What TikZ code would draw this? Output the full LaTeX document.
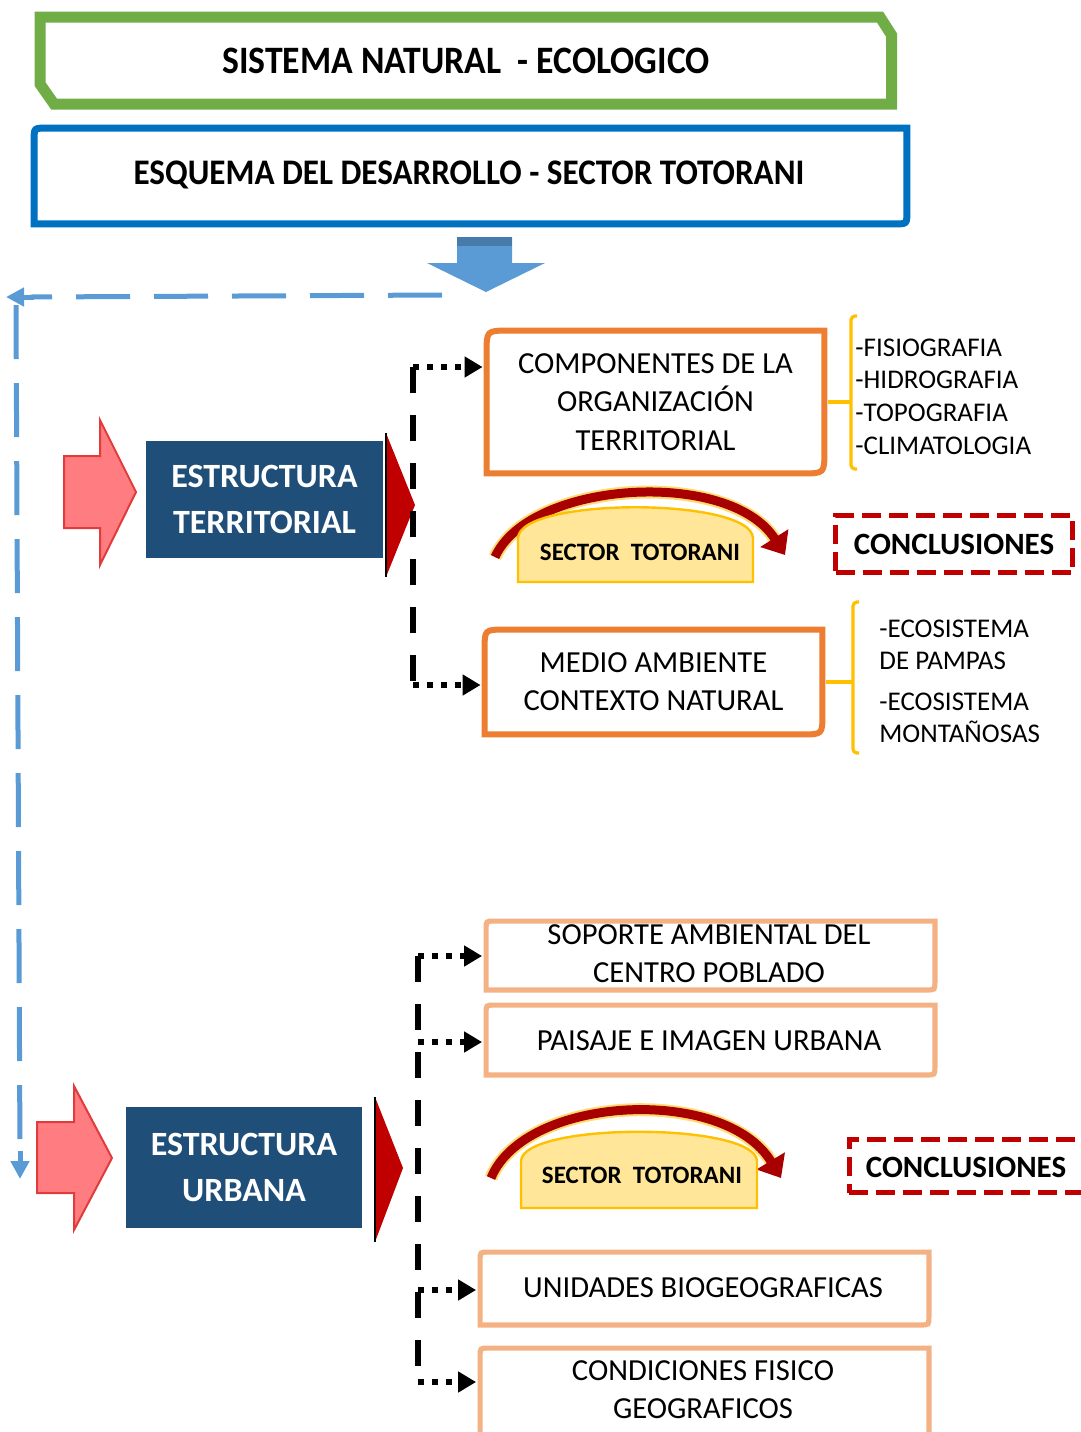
\documentclass[tikz,border=0pt]{standalone}
\usepackage{fontspec}
\setmainfont{Carlito}
\usepackage{graphicx}
\usetikzlibrary{arrows.meta}
\definecolor{cgreen}{HTML}{70AD47}
\definecolor{cblue}{HTML}{0070C0}
\definecolor{cblock}{HTML}{5B9BD5}
\definecolor{cblockd}{HTML}{41719C}
\definecolor{cpink}{HTML}{FF7C80}
\definecolor{cpinkd}{HTML}{E03C3C}
\definecolor{cnavy}{HTML}{1F4E79}
\definecolor{cdred}{HTML}{C00000}
\definecolor{carrowred}{HTML}{A80000}
\definecolor{corange}{HTML}{ED7D31}
\definecolor{clorange}{HTML}{F4B183}
\definecolor{cyellow}{HTML}{FFC000}
\definecolor{cdome}{HTML}{FFE699}
\newcommand\fsz[2]{\fontsize{#1}{#2}\selectfont}
\newcommand\twocorner[3]{\draw[#3] (#1.south west) -- ([yshift=-#2]#1.north west) .. controls (#1.north west) .. ([xshift=#2]#1.north west) -- (#1.north east) -- ([yshift=#2]#1.south east) .. controls (#1.south east) .. ([xshift=-#2]#1.south east) -- cycle;}
\begin{document}
\begin{tikzpicture}[x=0.5pt,y=-0.5pt,
  shapebox/.style={rectangle, draw=none, inner sep=0pt},
  txt/.style={inner sep=0pt, align=center, text=black},
  boxtxt/.style={txt, font=\fsz{15.3pt}{19.3pt}},
  listtxt/.style={inner sep=0pt, align=left, anchor=west, text=black, font=\fsz{13.5pt}{16.3pt}},
  navybox/.style={rectangle, fill=cnavy, inner sep=0pt, text=white, align=center, font=\fsz{17pt}{23pt}\bfseries},
  concbox/.style={rectangle, draw=cdred, line width=2.5pt, dash pattern=on 9.5pt off 4pt, inner sep=0pt, font=\fsz{15.5pt}{18pt}\bfseries},
  dotarr/.style={line width=3pt, dash pattern=on 3pt off 4pt, -{Triangle[length=9pt,width=10pt]}, shorten >=2pt},
  vdashed/.style={line width=3pt, dash pattern=on 13pt off 11pt},
  bdashed/.style={draw=cblock, line width=2.5pt, dash pattern=on 27pt off 12pt},
  btip/.style={draw=cblock, line width=2.5pt, -{Triangle[length=9pt,width=9pt]}},
  ybracket/.style={draw=cyellow, line width=1.6pt},
  curvearr/.style={draw=carrowred, line width=4.5pt, -{Triangle[length=10pt,width=16pt]}},
  curveglow/.style={draw=cyellow, line width=6.5pt, opacity=0.55, shorten >=9pt},
  dome/.style={fill=cdome, draw=cyellow, line width=1.2pt},
  sectortxt/.style={txt, font=\fsz{12.5pt}{15pt}\bfseries}
]
\useasboundingbox (0,0) rectangle (1081,1432);
\clip (0,0) rectangle (1081,1432);

% ---------- titles ----------
\draw[cgreen, line width=5.5pt, line join=miter] (40,17) -- (880,17) -- (891.5,35) -- (891.5,104) -- (54,104) -- (40,84) -- cycle;
\node[txt, font=\fsz{19.4pt}{23pt}\bfseries] (title1) at (466,61) {\scalebox{0.92}[1]{SISTEMA NATURAL\ \ -\ ECOLOGICO}};

\node[shapebox, minimum width=436pt, minimum height=47.5pt] (frame2) at (470.5,176) {};
\twocorner{frame2}{6pt}{draw=cblue, line width=3.5pt}
\node[txt, font=\fsz{18pt}{22pt}\bfseries] (title2) at (469,175) {\scalebox{0.92}[1]{ESQUEMA DEL DESARROLLO - SECTOR TOTORANI}};

% ---------- block arrow down ----------
\fill[cblock] (457,237) -- (512,237) -- (512,263) -- (545,263) -- (486,292) -- (427,263) -- (457,263) -- cycle;
\fill[cblockd, opacity=0.75] (457,237) rectangle (512,246);

% ---------- blue dashed return line ----------
\coordinate (bstart) at (442,295);
\coordinate (bleft) at (6,297);
\coordinate (vtop) at (16,305);
\coordinate (vbot) at (20,1179);
\draw[bdashed] (bstart) -- ([xshift=12pt]bleft);
\draw[btip] ([xshift=14pt]bleft) -- (bleft);
\draw[bdashed] (vtop) -- ([yshift=12pt]vbot);
\draw[btip] ([yshift=14pt]vbot) -- (vbot);

% ---------- pink block arrows ----------
\draw[fill=cpink, draw=cpinkd, line width=1pt] (64,456) -- (100,456) -- (100,420) -- (136,492) -- (100,565) -- (100,528) -- (64,528) -- cycle;
\draw[fill=cpink, draw=cpinkd, line width=1pt] (37,1122) -- (74,1122) -- (74,1086) -- (112,1158) -- (74,1230) -- (74,1193) -- (37,1193) -- cycle;

% ---------- navy boxes ----------
\node[navybox, minimum width=118.5pt, minimum height=58.5pt] (estT) at (264.5,499.5) {ESTRUCTURA\\TERRITORIAL};
\node[navybox, minimum width=118pt, minimum height=60.5pt] (estU) at (244,1167.5) {ESTRUCTURA\\URBANA};

% ---------- red triangles ----------
\fill[cdred] (386,433) -- (415,505) -- (386,577) -- cycle;
\draw[line width=1pt] (386,433) -- (386,577);
\fill[cdred] (375,1097) -- (403,1168) -- (375,1242) -- cycle;
\draw[line width=1pt] (375,1097) -- (375,1242);

% ---------- upper orange boxes ----------
\node[shapebox, minimum width=168.5pt, minimum height=71pt] (comp) at (655.5,402) {};
\twocorner{comp}{11pt}{draw=corange, line width=3pt}
\node[boxtxt] (compT) at (655.5,402) {COMPONENTES DE LA\\ORGANIZACIÓN\\TERRITORIAL};

\node[shapebox, minimum width=168.5pt, minimum height=52pt] (medio) at (653.5,682) {};
\twocorner{medio}{10pt}{draw=corange, line width=3pt}
\node[boxtxt] (medioT) at (653.5,681.5) {MEDIO AMBIENTE\\CONTEXTO NATURAL};

% ---------- brackets and lists ----------
\coordinate (br1) at (851,402);
\draw[ybracket, rounded corners=2pt] (857,316) -- (851,316) -- (851,469) -- (857,469);
\draw[ybracket] ([xshift=2pt]comp.east) -- (br1);
\node[listtxt] (list1) at (855,396.5) {-FISIOGRAFIA\\-HIDROGRAFIA\\-TOPOGRAFIA\\-CLIMATOLOGIA};

\coordinate (br2) at (853,682);
\draw[ybracket, rounded corners=2pt] (859,602) -- (853,602) -- (853,753) -- (859,753);
\draw[ybracket] ([xshift=2pt]medio.east) -- (br2);
\node[listtxt] (list2) at (879,645) {-ECOSISTEMA\\DE PAMPAS};
\node[listtxt] (list3) at (879,718) {-ECOSISTEMA\\MONTAÑOSAS};

% ---------- upper sector totorani ----------
\coordinate (a1s) at (495,557);
\coordinate (a1e) at (785,555);
\draw[curveglow] (a1s) .. controls (530,480) and (730,468) .. (a1e);
\draw[curvearr] (a1s) .. controls (530,480) and (730,468) .. (a1e);
\draw[dome] (518,582) -- (518,538) .. controls (520,497) and (751,497) .. (753,538) -- (753,582) -- cycle;
\node[sectortxt] (sector1) at (640,552) {SECTOR\ \ TOTORANI};

\node[concbox, minimum width=118.5pt, minimum height=28.5pt] (conc1) at (954,544) {CONCLUSIONES};

% ---------- upper connectors ----------
\coordinate (ja) at (413,367);
\coordinate (jb) at (413,685);
\draw[vdashed] (ja) -- (jb);
\draw[dotarr] (ja) -- (ja -| comp.west);
\draw[dotarr] (jb) -- (jb -| medio.west);

% ---------- lower boxes ----------
\node[shapebox, minimum width=224pt, minimum height=34pt] (sop) at (710.5,955.5) {};
\twocorner{sop}{4pt}{draw=clorange, line width=2.6pt}
\node[boxtxt] (sopT) at (709,953.5) {SOPORTE AMBIENTAL DEL\\CENTRO POBLADO};

\node[shapebox, minimum width=224pt, minimum height=34.5pt] (pai) at (710.5,1040) {};
\twocorner{pai}{4pt}{draw=clorange, line width=2.6pt}
\node[boxtxt] (paiT) at (709,1041) {PAISAJE E IMAGEN URBANA};

\node[shapebox, minimum width=224pt, minimum height=36pt] (uni) at (704.5,1288.5) {};
\twocorner{uni}{4pt}{draw=clorange, line width=2.6pt}
\node[boxtxt] (uniT) at (703,1288) {UNIDADES BIOGEOGRAFICAS};

\node[shapebox, minimum width=224pt, minimum height=47pt] (cond) at (704.5,1395.5) {};
\twocorner{cond}{4pt}{draw=clorange, line width=2.6pt}
\node[boxtxt] (condT) at (703,1389.5) {CONDICIONES FISICO\\GEOGRAFICOS};

% ---------- lower sector totorani ----------
\coordinate (a2s) at (491,1178);
\coordinate (a2e) at (781,1178);
\draw[curveglow] (a2s) .. controls (525,1095) and (725,1085) .. (a2e);
\draw[curvearr] (a2s) .. controls (525,1095) and (725,1085) .. (a2e);
\draw[dome] (521,1208) -- (521,1161) .. controls (523,1122) and (755,1122) .. (757,1161) -- (757,1208) -- cycle;
\node[sectortxt] (sector2) at (642,1175) {SECTOR\ \ TOTORANI};

\node[concbox, minimum width=117.3pt, minimum height=26.5pt] (conc2) at (966.75,1166) {};
\node[txt, font=\fsz{15.5pt}{18pt}\bfseries] (conc2T) at (966,1167) {CONCLUSIONES};

% ---------- lower connectors ----------
\coordinate (k1) at (418,956);
\coordinate (k2) at (418,1042);
\coordinate (k3) at (418,1290);
\coordinate (k4) at (418,1382);
\draw[vdashed] (k1) -- (k4);
\draw[dotarr] (k1) -- (k1 -| sop.west);
\draw[dotarr] (k2) -- (k2 -| pai.west);
\draw[dotarr] (k3) -- (k3 -| uni.west);
\draw[dotarr] (k4) -- (k4 -| cond.west);
\end{tikzpicture}
\end{document}
